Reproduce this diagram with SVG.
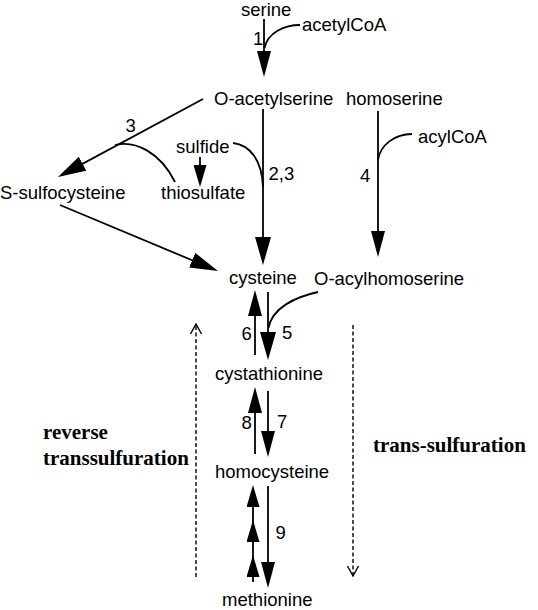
<svg xmlns="http://www.w3.org/2000/svg" width="538" height="610" viewBox="0 0 538 610">
<style>
.n{font-family:"Liberation Sans",Arial,sans-serif;font-size:18.5px;fill:#000}
.b{font-family:"Liberation Serif","Times New Roman",serif;font-size:21px;font-weight:bold;fill:#000}
.l{fill:none;stroke:#000;stroke-width:1.8}
.d{fill:none;stroke:#000;stroke-width:1.4;stroke-dasharray:4 2.5}
</style>
<defs>
<marker id="ah" markerUnits="userSpaceOnUse" markerWidth="26" markerHeight="14" viewBox="0 0 26 14" refX="22" refY="7" orient="auto"><path d="M0,0L26,7L0,14z" fill="#000"/></marker>
<marker id="ahL" markerUnits="userSpaceOnUse" markerWidth="28" markerHeight="16" viewBox="0 0 28 16" refX="24" refY="8" orient="auto"><path d="M0,0L28,8L0,16z" fill="#000"/></marker>
<marker id="ahS" markerUnits="userSpaceOnUse" markerWidth="22" markerHeight="13" viewBox="0 0 22 13" refX="18" refY="6.5" orient="auto"><path d="M0,0L22,6.5L0,13z" fill="#000"/></marker>
<marker id="op" markerUnits="userSpaceOnUse" markerWidth="12" markerHeight="13" viewBox="0 0 12 13" refX="11" refY="6.5" orient="auto"><path d="M1,1L11,6.5L1,12" fill="none" stroke="#000" stroke-width="1.4"/></marker>
</defs>
<rect width="538" height="610" fill="#fff"/>
<g id="connectors">
<path class="l" d="M264,19V73" marker-end="url(#ah)"/>
<path class="l" d="M300,25C285,25 268,32 264.5,48"/>
<path class="l" d="M263,109V261" marker-end="url(#ahL)"/>
<path class="l" d="M233,143C250,145 262,160 263,187"/>
<path class="l" d="M378,111V253" marker-end="url(#ah)"/>
<path class="l" d="M412,134C395,134 380,145 378,160"/>
<path class="l" d="M203,99L61.5,175.1" marker-end="url(#ahL)"/>
<path class="l" d="M115,145C135,140 160,152 175,182"/>
<path class="l" d="M200,157V183" marker-end="url(#ahS)"/>
<path class="l" d="M60,205L214.3,269.5" marker-end="url(#ahL)"/>
<path class="l" d="M268,292V356" marker-end="url(#ahL)"/>
<path class="l" d="M318,292C295,297 272,308 268.5,328"/>
<path class="l" d="M255,355V294" marker-end="url(#ah)"/>
<path class="l" d="M268,391V453" marker-end="url(#ah)"/>
<path class="l" d="M255,454V391" marker-end="url(#ah)"/>
<path class="l" d="M268,486V584" marker-end="url(#ah)"/>
<path class="l" d="M253,582L253,559L253,524L253,489" marker-mid="url(#ahS)" marker-end="url(#ahS)"/>
<path class="d" d="M196,577V324" marker-end="url(#op)"/>
<path class="d" d="M353,325V576" marker-end="url(#op)"/>
</g>
<g id="labels">
<text class="n" x="253" y="45">1</text>
<text class="n" x="125.5" y="132">3</text>
<text class="n" x="268.5" y="180">2,3</text>
<text class="n" x="360" y="182">4</text>
<text class="n" x="282" y="339">5</text>
<text class="n" x="241.5" y="340">6</text>
<text class="n" x="277" y="428">7</text>
<text class="n" x="241.5" y="429">8</text>
<text class="n" x="275.5" y="539">9</text>
</g>
<g id="serine"><text class="n" x="241" y="16">serine</text></g>
<g id="acetylCoA"><text class="n" x="302" y="31">acetylCoA</text></g>
<g id="O-acetylserine"><text class="n" x="214" y="105">O-acetylserine</text></g>
<g id="homoserine"><text class="n" x="346" y="105">homoserine</text></g>
<g id="acylCoA"><text class="n" x="418" y="143">acylCoA</text></g>
<g id="sulfide"><text class="n" x="176" y="153">sulfide</text></g>
<g id="S-sulfocysteine"><text class="n" x="0" y="199">S-sulfocysteine</text></g>
<g id="thiosulfate"><text class="n" x="161" y="199">thiosulfate</text></g>
<g id="cysteine"><text class="n" x="229" y="284">cysteine</text></g>
<g id="O-acylhomoserine"><text class="n" x="314" y="285">O-acylhomoserine</text></g>
<g id="cystathionine"><text class="n" x="215" y="380">cystathionine</text></g>
<g id="homocysteine"><text class="n" x="215" y="478">homocysteine</text></g>
<g id="methionine"><text class="n" x="222" y="606">methionine</text></g>
<g id="reverse-transsulfuration"><text class="b" x="43" y="439">reverse</text><text class="b" x="43" y="465">transsulfuration</text></g>
<g id="trans-sulfuration"><text class="b" x="373" y="452">trans-sulfuration</text></g>
</svg>
